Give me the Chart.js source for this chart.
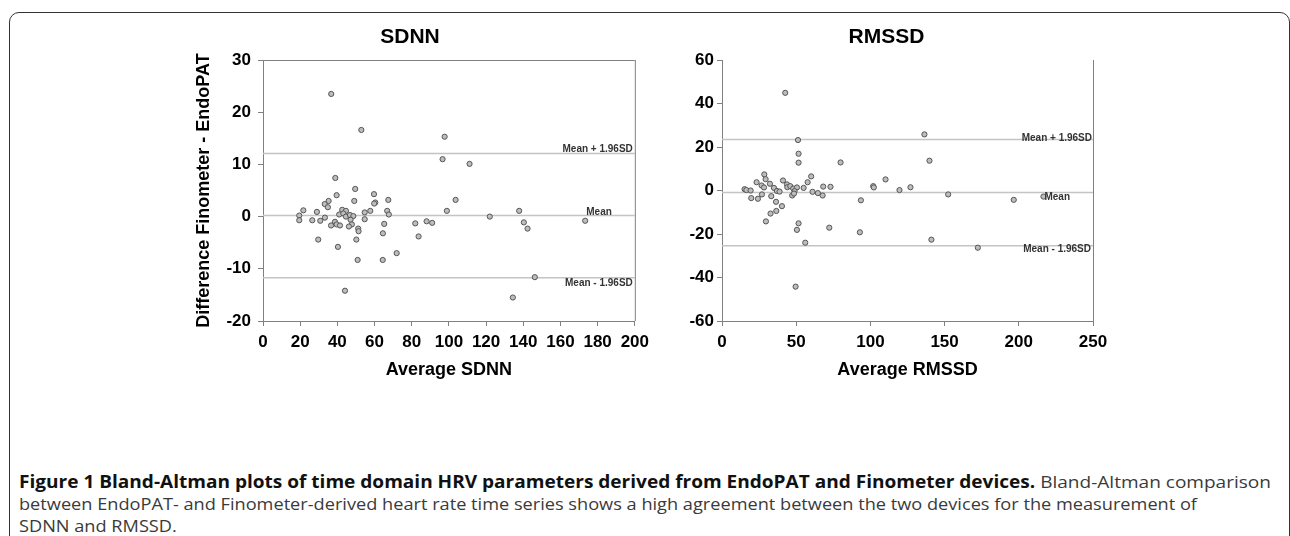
<!DOCTYPE html>
<html>
<head>
<meta charset="utf-8">
<script src="https://cdn.jsdelivr.net/npm/chart.js@4.4.1/dist/chart.umd.min.js"></script>
<style>
  html, body { margin: 0; padding: 0; background: #fff; }
  #page { position: relative; width: 1290px; height: 536px; overflow: hidden; background: #fff; }
  #frame { position: absolute; left: 9px; top: 12px; width: 1281px; height: 600px;
           border: 1.5px solid #333; border-radius: 10px; box-sizing: border-box; }
  .plot { position: absolute; top: 12px; }
  #caption { position: absolute; left: 19px; top: 471px; font-family: "Open Sans", sans-serif;
             font-size: 17px; line-height: 22px; color: #3a3a3a; }
  #caption .ln { white-space: nowrap; }
  #caption .ln span { display: inline-block; transform-origin: 0 50%; }
  #caption b { color: #111; font-weight: 700; }
</style>
</head>
<body>
<div id="page">
  <div id="frame"></div>
  <canvas id="sdnn" class="plot" width="470" height="380" style="left:185px"></canvas>
  <canvas id="rmssd" class="plot" width="504" height="380" style="left:680px"></canvas>
  <div id="caption">
    <div class="ln"><span><b>Figure 1 Bland-Altman plots of time domain HRV parameters derived from EndoPAT and Finometer devices.</b> Bland-Altman comparison</span></div>
    <div class="ln"><span>between EndoPAT- and Finometer-derived heart rate time series shows a high agreement between the two devices for the measurement of</span></div>
    <div class="ln"><span>SDNN and RMSSD.</span></div>
  </div>
</div>
<script>
// values
var sdnnAvg = [36.7, 52.9, 97.7, 96.6, 38.9, 49.6, 39.6, 59.7, 67.4, 49.1, 60.4, 59.8, 35.3, 33.2, 34.9,
  21.7, 19.5, 19.5, 26.5, 29.0, 30.8, 33.3, 36.6, 38.7, 39.6, 41.4, 41.0, 42.6, 44.6, 43.2,
  44.6, 46.8, 48.6, 47.1, 47.8, 46.2, 51.2, 51.4, 29.7, 40.3, 50.2, 50.9, 54.7, 57.7, 54.7,
  66.8, 67.7, 65.2, 64.5, 64.4, 71.9, 81.9, 83.7, 88.0, 91.0, 98.9, 44.1, 111.1, 103.6, 122.0,
  137.8, 140.3, 142.3, 173.3, 146.2, 134.4];
var sdnnDiff = [23.5, 16.6, 15.3, 11.0, 7.4, 5.3, 4.1, 4.3, 3.2, 3.0, 2.7, 2.5, 3.0, 2.4, 1.8,
  1.2, 0.2, -0.7, -0.7, 0.9, -0.8, -0.2, -1.7, -1.0, -1.5, -1.7, 0.4, 1.3, 1.1, 0.6,
  0.0, 0.3, 0.1, -0.6, -1.5, -1.9, -2.3, -2.8, -4.4, -5.8, -4.4, -8.3, 0.8, 1.1, -0.5,
  1.1, 0.4, -1.4, -3.2, -8.3, -7.0, -1.3, -3.8, -0.9, -1.2, 1.1, -14.2, 10.1, 3.2, 0.0,
  1.1, -1.1, -2.3, -0.8, -11.6, -15.5];
var sdnnLimits = [12.1, 0.2, -11.7];

var rmssdAvg = [42.6, 51.2, 51.6, 51.6, 79.9, 28.5, 29.4, 60.1, 110.2, 23.3, 32.3, 41.1, 57.7, 26.7, 28.3,
  35.0, 43.8, 44.0, 46.0, 48.0, 50.5, 55.0, 68.2, 73.1, 101.9, 102.3, 119.6, 127.0, 15.2, 16.4,
  19.3, 37.0, 38.8, 48.9, 61.0, 64.6, 67.8, 26.9, 33.2, 47.3, 48.5, 19.7, 24.2, 36.4, 40.4,
  93.6, 36.6, 32.7, 29.6, 51.6, 50.5, 72.3, 92.9, 56.1, 49.6, 136.4, 139.8, 152.4, 196.6, 216.6,
  141.1, 172.4];
var rmssdDiff = [44.9, 23.2, 16.9, 12.8, 12.9, 7.4, 5.2, 6.5, 5.1, 3.8, 3.1, 4.6, 3.8, 2.3, 1.4,
  1.2, 2.8, 1.5, 2.0, 0.9, 1.4, 1.2, 1.8, 1.7, 2.0, 1.4, 0.2, 1.5, 0.6, 0.2,
  0.0, -0.2, -0.5, -0.3, -0.6, -1.2, -2.3, -1.8, -2.6, -2.3, -1.4, -3.5, -3.8, -5.2, -7.2,
  -4.5, -9.4, -10.6, -14.2, -15.1, -18.1, -17.1, -19.2, -24.0, -44.2, 25.8, 13.7, -1.8, -4.3, -2.8,
  -22.6, -26.3];
var rmssdLimits = [23.4, -0.9, -25.4];

var limitLabels = ['Mean + 1.96SD', 'Mean', 'Mean - 1.96SD'];

var FONT = '"Liberation Sans", Arial, sans-serif';
var AXIS = '#808080';

function points(xs, ys) {
  return xs.map(function(x, i) { return {x: x, y: ys[i]}; });
}

// horizontal mean / limit lines spanning the x axis
function limitSets(limits, xMin, xMax) {
  return limits.map(function(v) {
    return {
      type: 'line',
      data: [{x: xMin, y: v}, {x: xMax, y: v}],
      borderColor: '#c4c4c4',
      borderWidth: 1.5,
      pointRadius: 0,
      order: 2
    };
  });
}

// frame lines of the plot box and the labels on the limit lines
var boxAndLabels = {
  id: 'boxAndLabels',
  afterDatasetsDraw: function(chart, args, opts) {
    var ctx = chart.ctx, a = chart.chartArea, ys = chart.scales.y;
    ctx.save();
    ctx.strokeStyle = AXIS;
    ctx.lineWidth = 1;
    ctx.beginPath();
    if (opts.top) {
      ctx.moveTo(a.left - 5, a.top + 0.5);
      ctx.lineTo(a.right, a.top + 0.5);
    }
    ctx.moveTo(a.right + 0.5, a.top);
    ctx.lineTo(a.right + 0.5, a.bottom);
    ctx.stroke();
    ctx.font = 'bold 10px ' + FONT;
    ctx.fillStyle = '#333';
    ctx.textAlign = 'right';
    opts.limits.forEach(function(v, i) {
      var p = opts.place[i];
      ctx.fillText(limitLabels[i], a.right + p[0], ys.getPixelForValue(v) + p[1]);
    });
    ctx.restore();
  }
};

function makeChart(id, cfg) {
  var ctx = document.getElementById(id).getContext('2d');
  return new Chart(ctx, {
    type: 'scatter',
    data: {
      datasets: [{
        data: points(cfg.xs, cfg.ys),
        pointRadius: 2.6,
        pointBorderWidth: 1,
        borderColor: '#555',
        backgroundColor: '#bdbdbd',
        order: 1
      }].concat(limitSets(cfg.limits, cfg.xMin, cfg.xMax))
    },
    options: {
      responsive: false,
      animation: false,
      events: [],
      layout: { padding: { left: 0, right: cfg.padRight, top: 0, bottom: 0 } },
      plugins: {
        legend: { display: false },
        tooltip: { enabled: false },
        title: {
          display: true,
          text: cfg.title,
          color: '#000',
          font: { family: FONT, size: 21, weight: 'bold' },
          padding: { top: 13, bottom: 9.8 }
        },
        boxAndLabels: { limits: cfg.limits, place: cfg.place, top: cfg.topLine }
      },
      scales: {
        x: {
          type: 'linear',
          min: cfg.xMin, max: cfg.xMax,
          afterFit: function(s) { s.height = 71; },
          ticks: { stepSize: cfg.xStep, padding: 6, color: '#000',
                   font: { family: FONT, size: 17, weight: 'bold' } },
          grid: { drawOnChartArea: false, tickLength: 5, color: AXIS },
          border: { color: AXIS, width: 1 },
          title: { display: true, text: cfg.xTitle, color: '#000',
                   font: { family: FONT, size: 18, weight: 'bold' },
                   padding: { top: 0, bottom: 11.2 } }
        },
        y: {
          min: cfg.yMin, max: cfg.yMax,
          afterFit: function(s) { s.width = cfg.yWidth; },
          ticks: { stepSize: cfg.yStep, padding: cfg.yPad, color: '#000',
                   font: { family: FONT, size: 17, weight: 'bold' } },
          grid: { drawOnChartArea: false, tickLength: 5, color: AXIS },
          border: { color: AXIS, width: 1 },
          title: { display: !!cfg.yTitle, text: cfg.yTitle || '', color: '#000',
                   font: { family: FONT, size: 18, weight: 'bold' },
                   padding: { top: 8.7, bottom: 0 } }
        }
      }
    },
    plugins: [boxAndLabels]
  });
}

makeChart('sdnn', {
  title: 'SDNN', xTitle: 'Average SDNN', yTitle: 'Difference Finometer - EndoPAT',
  xs: sdnnAvg, ys: sdnnDiff, limits: sdnnLimits,
  xMin: 0, xMax: 200, xStep: 20, yMin: -20, yMax: 30, yStep: 10,
  yWidth: 78, yPad: 7, padRight: 20, topLine: true,
  place: [[-2, -1], [-23, -1], [-2, 8]]
});

makeChart('rmssd', {
  title: 'RMSSD', xTitle: 'Average RMSSD',
  xs: rmssdAvg, ys: rmssdDiff, limits: rmssdLimits,
  xMin: 0, xMax: 250, xStep: 50, yMin: -60, yMax: 60, yStep: 20,
  yWidth: 42, yPad: 3, padRight: 91, topLine: false,
  place: [[-1, 1], [-23, 7.5], [-2, 6]]
});

// squeeze caption lines to the measured widths of the printed figure
var lines = document.querySelectorAll('#caption .ln span');
var w1 = lines[0].getBoundingClientRect().width;
var w2 = lines[1].getBoundingClientRect().width;
var k1 = 1252 / w1, k2 = 1178 / w2;
lines[0].style.transform = 'scaleX(' + k1 + ')';
lines[1].style.transform = 'scaleX(' + k2 + ')';
lines[2].style.transform = 'scaleX(' + k2 + ')';
</script>
</body>
</html>
